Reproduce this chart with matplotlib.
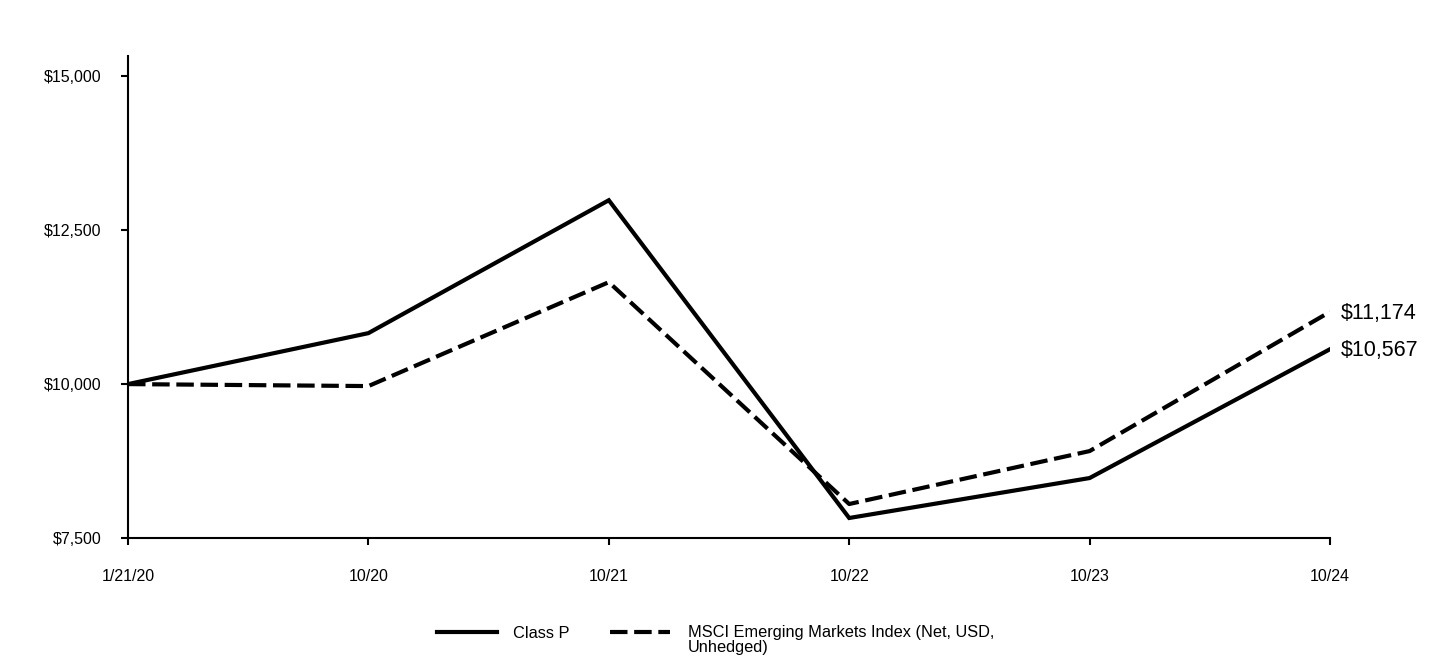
import matplotlib
matplotlib.use("Agg")
import matplotlib.pyplot as plt
from matplotlib.lines import Line2D

plt.rcParams['font.family'] = ['Liberation Sans', 'DejaVu Sans']

dates = ["1/21/20", "10/20", "10/21", "10/22", "10/23", "10/24"]
class_p = [10000, 10828, 12987, 7825, 8474, 10567]
msci = [10000, 9968, 11656, 8052, 8912, 11174]
y_ticks = [7500, 10000, 12500, 15000]
series_names = ["Class P", "MSCI Emerging Markets Index (Net, USD,\nUnhedged)"]

fig = plt.figure(figsize=(14.4, 6.6), dpi=100)
ax = fig.add_axes([128/1440, 1-538/660, (1330-128)/1440, (538-56)/660])

x = list(range(len(dates)))
ax.plot(x, class_p, color='black', lw=3, solid_joinstyle='miter')
ax.plot(x, msci, color='black', lw=3, linestyle=(0, (4.2, 1.6)), dash_capstyle='butt')

ax.set_xlim(0, len(dates) - 1)
ax.set_ylim(7500, 15330)
ax.set_xticks(x)
ax.set_xticklabels(dates, fontsize=11.5)
ax.set_yticks(y_ticks)
ax.set_yticklabels([f"${v:,.0f}" for v in y_ticks], fontsize=11.5)
for s in ['top', 'right']:
    ax.spines[s].set_visible(False)
for s in ['left', 'bottom']:
    ax.spines[s].set_linewidth(1.5)
ax.tick_params(axis='both', length=5, width=1.5, direction='out')
ax.tick_params(axis='x', pad=17.5)
ax.tick_params(axis='y', pad=14)

ax.annotate(f"${class_p[-1]:,.0f}", (x[-1], class_p[-1]), xytext=(8, -1),
            textcoords='offset points', va='center', ha='left', fontsize=15.5,
            annotation_clip=False)
ax.annotate(f"${msci[-1]:,.0f}", (x[-1], msci[-1]), xytext=(8, -1),
            textcoords='offset points', va='center', ha='left', fontsize=15.5,
            annotation_clip=False)

# legend drawn manually
ly = 1 - 632/660
fig.add_artist(Line2D([437/1440, 497/1440], [ly, ly], color='black', lw=3,
                      transform=fig.transFigure))
fig.text(513/1440, 1 - 633/660, series_names[0], fontsize=11.8, va='center', ha='left')
fig.add_artist(Line2D([610/1440, 670/1440], [ly, ly], color='black', lw=3,
                      linestyle=(0, (4.2, 1.6)), transform=fig.transFigure))
fig.text(688/1440, 1 - 625/660, series_names[1], fontsize=11.8, va='top', ha='left',
         linespacing=0.98)

fig.savefig("out.png", dpi=100)
